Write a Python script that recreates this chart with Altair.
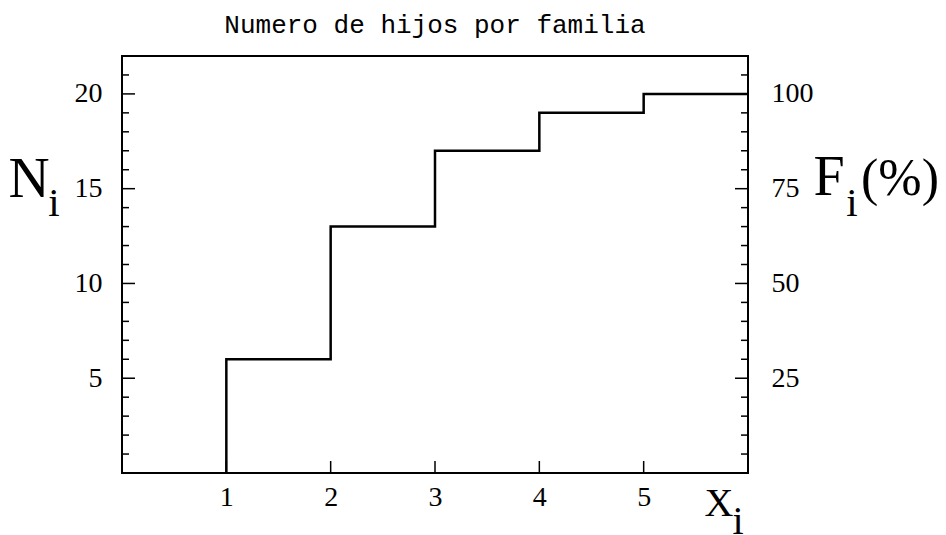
import altair as alt
import pandas as pd

# ---- data ----
xi = [1, 2, 3, 4, 5]            # number of children
Ni = [6, 13, 17, 19, 20]        # cumulative absolute frequency
x_tick_values = [1, 2, 3, 4, 5]
n_minor_values = list(range(1, 22))
n_major_values = [5, 10, 15, 20]
f_major_values = [25, 50, 75, 100]
title_text = "Numero de hijos por familia"

X_MAX = 6
N_MAX = 22
F_MAX = 110

W, H = 626, 417
MONO = "Liberation Mono"
SERIF = "Liberation Serif"
TICK_FONT = "Liberation Serif"
TICK_SIZE = 28

# step path built from the cumulative frequencies
steps = pd.DataFrame({
    "X": [xi[0]] + xi + [X_MAX],
    "N": [0] + Ni + [Ni[-1]],
})

ticks = pd.DataFrame({"v": n_minor_values})
ticks["major"] = (ticks["v"] % 5 == 0)
ticks["F"] = ticks["v"] * 100.0 / Ni[-1]

xscale = alt.Scale(domain=[0, X_MAX], nice=False, zero=False)
yscale = alt.Scale(domain=[0, N_MAX], nice=False)
fscale = alt.Scale(domain=[0, F_MAX], nice=False)

x_axis = alt.Axis(values=x_tick_values, ticks=False, domain=False, grid=False,
                  labelFont=TICK_FONT, labelFontSize=TICK_SIZE, labelColor="black",
                  labelPadding=10, title=None)
left_axis = alt.Axis(values=n_major_values, ticks=False, domain=False, grid=False,
                     labelFont=TICK_FONT, labelFontSize=TICK_SIZE, labelColor="black",
                     labelPadding=20, title=None, orient="left")
right_axis = alt.Axis(values=f_major_values, ticks=False, domain=False, grid=False,
                      labelFont=TICK_FONT, labelFontSize=TICK_SIZE, labelColor="black",
                      labelPadding=23, title=None, orient="right")

line = alt.Chart(steps).mark_line(
    interpolate="step-after", color="black", strokeWidth=2.5
).encode(
    x=alt.X("X:Q", scale=xscale, axis=x_axis),
    y=alt.Y("N:Q", scale=yscale, axis=left_axis),
)

left_minor = alt.Chart(ticks).transform_filter("!datum.major").mark_rule(
    color="black", strokeWidth=1.5
).encode(
    y=alt.Y("v:Q", scale=yscale, axis=left_axis),
    x=alt.value(0), x2=alt.value(7),
)
left_major = alt.Chart(ticks).transform_filter("datum.major").mark_rule(
    color="black", strokeWidth=1.5
).encode(
    y=alt.Y("v:Q", scale=yscale, axis=left_axis),
    x=alt.value(0), x2=alt.value(13),
)
x_ticks = alt.Chart(pd.DataFrame({"X": x_tick_values})).mark_rule(
    color="black", strokeWidth=1.5
).encode(
    x=alt.X("X:Q", scale=xscale, axis=x_axis),
    y=alt.value(H), y2=alt.value(H - 12),
)

right_minor = alt.Chart(ticks).transform_filter("!datum.major").mark_rule(
    color="black", strokeWidth=1.5
).encode(
    y=alt.Y("F:Q", scale=fscale, axis=right_axis),
    x=alt.value(W), x2=alt.value(W - 7),
)
right_major = alt.Chart(ticks).transform_filter("datum.major").mark_rule(
    color="black", strokeWidth=1.5
).encode(
    y=alt.Y("F:Q", scale=fscale, axis=right_axis),
    x=alt.value(W), x2=alt.value(W - 13),
)


def label(txt, x, y, size, align="center", font=SERIF):
    return alt.Chart(pd.DataFrame({"t": [txt]})).mark_text(
        font=font, fontSize=size, color="black", align=align,
        baseline="alphabetic"
    ).encode(text="t:N", x=alt.value(x), y=alt.value(y))


texts = alt.layer(
    label(title_text, W / 2, -23, 26, font=MONO),
    label("N", -93, 141, 57),
    label("i", -68, 160, 41),
    label("F", 707, 139, 56),
    label("i", 730, 160, 41),
    label("(%)", 739, 139, 52, align="left"),
    label("X", 597, 460, 40),
    label("i", 616, 478, 40),
)

left_group = alt.layer(line, left_minor, left_major, x_ticks)
right_group = alt.layer(right_minor, right_major)

chart = alt.layer(left_group, right_group, texts).resolve_scale(
    y="independent"
).properties(
    width=W, height=H,
    background="white",
    autosize=alt.AutoSizeParams(type="none"),
    padding={"left": 114, "top": 48, "right": 190, "bottom": 62},
).configure_view(
    stroke="black", strokeWidth=2
)

chart.save("out.html", embed_options={"renderer": "svg", "actions": False})
